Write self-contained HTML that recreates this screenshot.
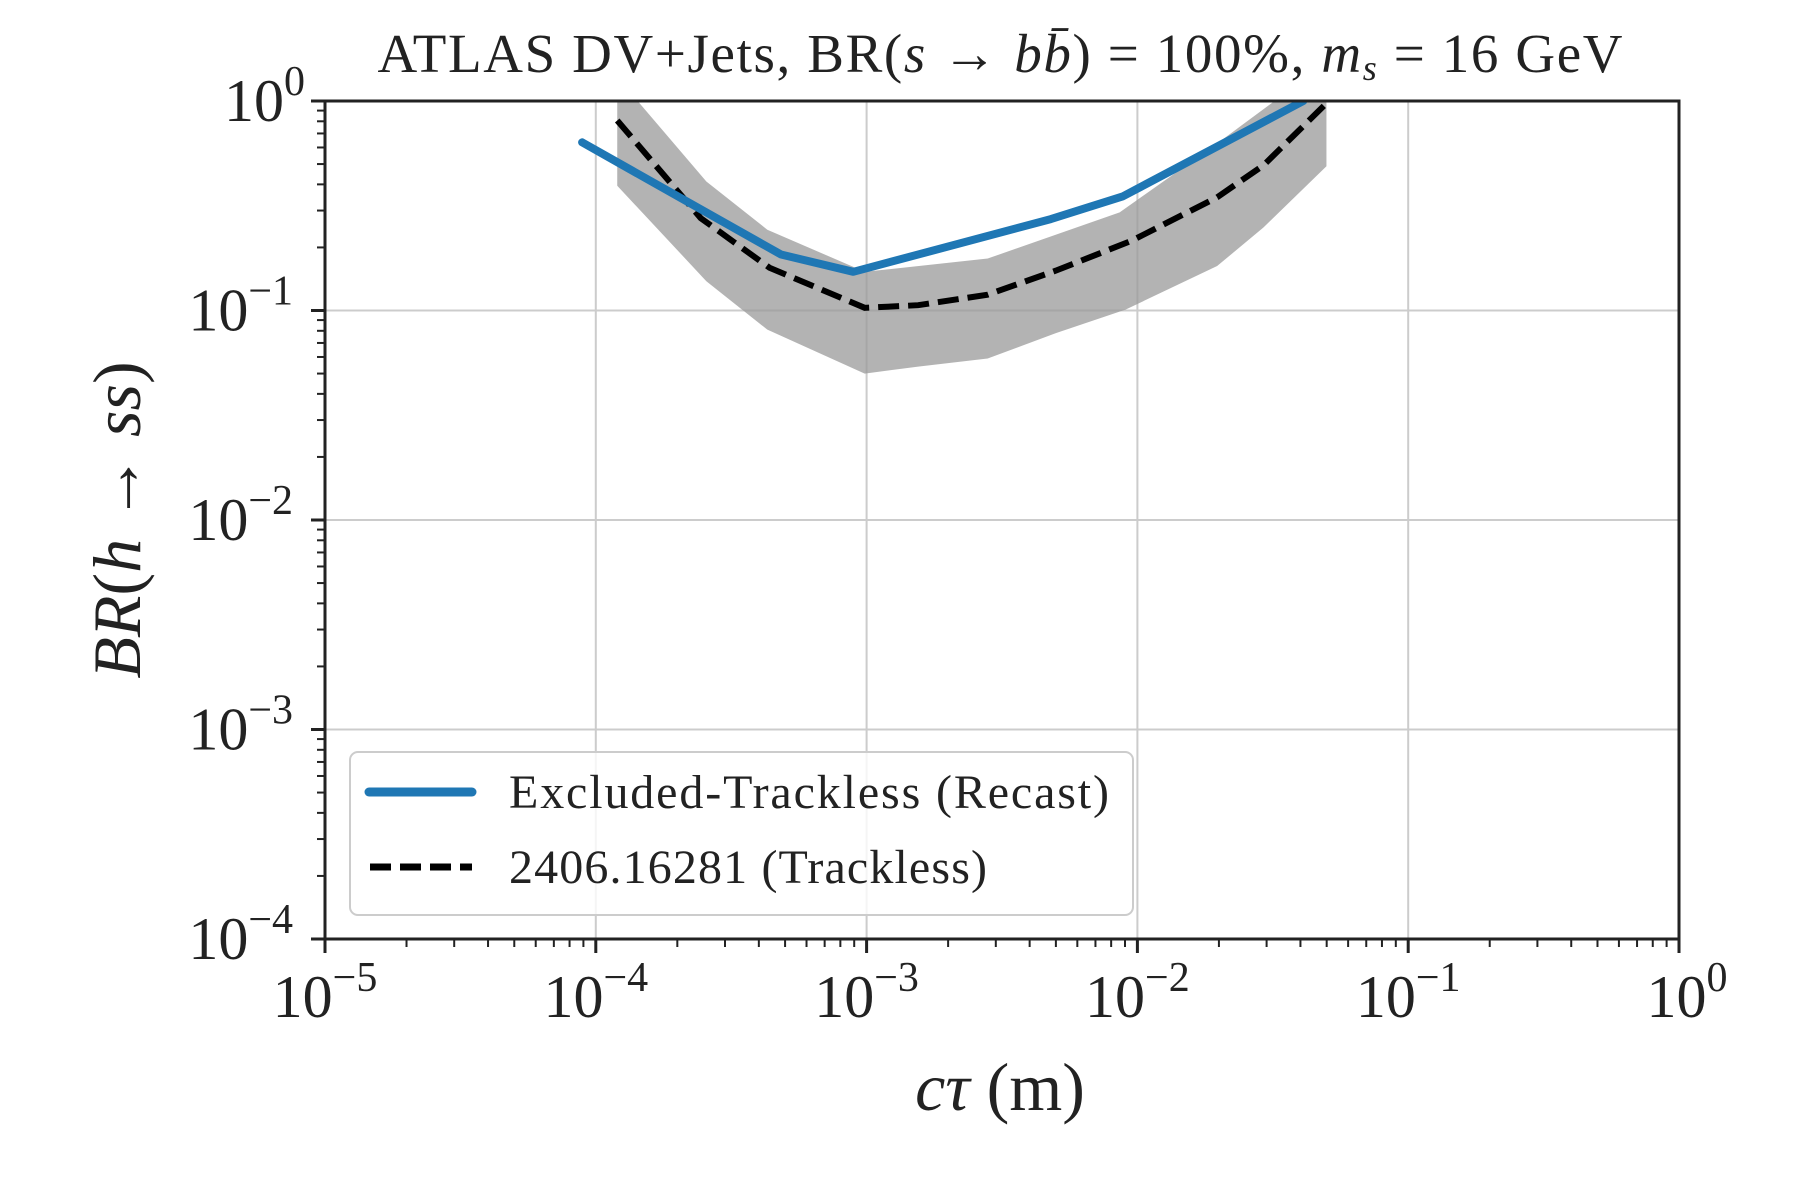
<!DOCTYPE html>
<html><head><meta charset="utf-8"><style>
body{margin:0;background:#fff}
svg{display:block}
text{font-family:"Liberation Serif","DejaVu Serif",serif;fill:#222}
</style></head><body>
<svg id="chart" width="1800" height="1200" viewBox="0 0 1800 1200">
<defs><clipPath id="pc"><rect x="325" y="101" width="1354" height="838"/></clipPath></defs>
<g id="grid"></g>
<g id="series" clip-path="url(#pc)"></g>
<rect x="325" y="101" width="1354" height="838" fill="none" stroke="#222" stroke-width="3"/>
<g id="ticks"></g>
<text x="1000" y="72" font-size="55" text-anchor="middle" textLength="1245">ATLAS DV+Jets, BR(<tspan font-style="italic">s</tspan> → <tspan font-style="italic">b</tspan><tspan font-style="italic">b̄</tspan>) = 100%, <tspan font-style="italic">m</tspan><tspan font-size="36" font-style="italic" dy="8">s</tspan><tspan dy="-8"> = 16 GeV</tspan></text>
<text x="1000" y="1110" font-size="68" text-anchor="middle"><tspan font-style="italic">cτ</tspan> (m)</text>
<text transform="translate(140,520) rotate(-90)" font-size="68" text-anchor="middle"><tspan font-style="italic">BR</tspan>(<tspan font-style="italic">h</tspan> → <tspan font-style="italic">ss</tspan>)</text>
<g>
<rect x="350" y="752" width="783" height="163" rx="8" fill="#fff" fill-opacity="0.8" stroke="#ccc" stroke-width="2"/>
<line x1="369" y1="792" x2="472" y2="792" stroke="#1f77b4" stroke-width="9" stroke-linecap="round"/>
<text x="509" y="808" font-size="48" textLength="600">Excluded-Trackless (Recast)</text>
<line x1="370" y1="867" x2="472" y2="867" stroke="#000" stroke-width="7" stroke-dasharray="21,9"/>
<text x="509" y="883" font-size="48" textLength="478">2406.16281 (Trackless)</text>
</g>
</svg>
<script>
const blueX=[8.9e-5,4.83e-4,8.93e-4,4.79e-3,8.85e-3,4.1e-2];
const blueY=[0.635,0.185,0.153,0.273,0.351,1.0];
const dashX=[1.2e-4,2.44e-4,4.38e-4,9.84e-4,1.55e-3,2.8e-3,5.0e-3,9.5e-3,1.97e-2,2.92e-2,4.99e-2];
const dashY=[0.807,0.276,0.160,0.103,0.106,0.119,0.155,0.215,0.347,0.493,0.975];
const bandX=[1.2e-4,2.56e-4,4.3e-4,9.84e-4,2.8e-3,8.6e-3,1.97e-2,3.21e-2,4.99e-2];
const bandHi=[1.3,0.413,0.243,0.153,0.177,0.294,0.627,1.0,1.1];
const bandLoX=[1.2e-4,2.56e-4,4.3e-4,9.84e-4,1.55e-3,2.8e-3,5.0e-3,9.04e-3,1.97e-2,2.92e-2,4.99e-2];
const bandLo=[0.394,0.138,0.081,0.050,0.054,0.059,0.078,0.101,0.163,0.249,0.488];
const xTickExp=[-5,-4,-3,-2,-1,0];
const yTickExp=[-4,-3,-2,-1,0];
const L=325,R=1679,T=101,B=939;
const xs=v=>L+(Math.log10(v)+5)/5*(R-L);
const ys=v=>B-(Math.log10(v)+4)/4*(B-T);
const NS='http://www.w3.org/2000/svg';
function mk(tag,attrs,parent){const e=document.createElementNS(NS,tag);for(const k in attrs)e.setAttribute(k,attrs[k]);parent.appendChild(e);return e;}
const grid=document.getElementById('grid'),ticks=document.getElementById('ticks'),ser=document.getElementById('series');
xTickExp.forEach(e=>{const x=xs(Math.pow(10,e));
 const g=mk('line',{x1:x,x2:x,y1:T,y2:B,stroke:'#ccc','stroke-width':2},grid);
 
 
 const t=mk('line',{x1:x,x2:x,y1:B,y2:B+14,stroke:'#222','stroke-width':3},ticks);
 
 
 const tx=mk('text',{x:x+(e<0?0:8),y:B+78,'font-size':60,'text-anchor':'middle'},ticks);
 
 
 tx.innerHTML='10<tspan dy="-26" font-size="42">'+(e<0?'−'+(-e):e)+'</tspan>';
 if(e<0)for(let m=2;m<10;m++){const xm=xs(m*Math.pow(10,e));
  const mt=mk('line',{x1:xm,x2:xm,y1:B,y2:B+8,stroke:'#222','stroke-width':2},ticks);
  
  }
});
yTickExp.forEach(e=>{const y=ys(Math.pow(10,e));
 const g=mk('line',{x1:L,x2:R,y1:y,y2:y,stroke:'#ccc','stroke-width':2},grid);
 
 
 const t=mk('line',{x1:L-14,x2:L,y1:y,y2:y,stroke:'#222','stroke-width':3},ticks);
 
 
 const tx=mk('text',{x:L-(e<0?32:20),y:y+20,'font-size':60,'text-anchor':'end'},ticks);
 
 
 tx.innerHTML='10<tspan dy="-26" font-size="42">'+(e<0?'−'+(-e):e)+'</tspan>';
 if(e<0)for(let m=2;m<10;m++){const ym=ys(m*Math.pow(10,e));
  const mt=mk('line',{x1:L-8,x2:L,y1:ym,y2:ym,stroke:'#222','stroke-width':2},ticks);
  
  }
});
let d='M'+bandX.map((x,i)=>xs(x)+','+ys(bandHi[i])).join('L');
for(let i=bandLoX.length-1;i>=0;i--)d+='L'+xs(bandLoX[i])+','+ys(bandLo[i]);
const band=mk('path',{d:d+'Z',fill:'#999','fill-opacity':0.75,stroke:'none'},ser);


const dl=mk('polyline',{points:dashX.map((x,i)=>xs(x)+','+ys(dashY[i])).join(' '),fill:'none',stroke:'#000','stroke-width':6,'stroke-dasharray':'21,9'},ser);


const bl=mk('polyline',{points:blueX.map((x,i)=>xs(x)+','+ys(blueY[i])).join(' '),fill:'none',stroke:'#1f77b4','stroke-width':8,'stroke-linecap':'round','stroke-linejoin':'round'},ser);


</script>
</body></html>
